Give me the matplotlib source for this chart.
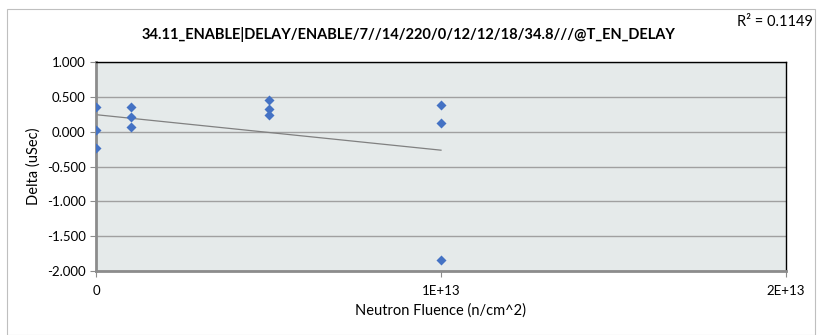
import numpy as np
import matplotlib.pyplot as plt
from matplotlib.patches import Rectangle

# fluence (n/cm^2) and delta (uSec)
fluence = [0, 0, 0, 1e12, 1e12, 1e12, 5e12, 5e12, 5e12, 1e13, 1e13, 1e13]
delta = [0.36, 0.02, -0.23, 0.36, 0.21, 0.07, 0.45, 0.33, 0.24, 0.38, 0.13, -1.84]
yticks = [1.0, 0.5, 0.0, -0.5, -1.0, -1.5, -2.0]
xticks = [0, 1e13, 2e13]
xticklabels = ["0", "1E+13", "2E+13"]
title = "34.11_ENABLE|DELAY/ENABLE/7//14/220/0/12/12/18/34.8///@T_EN_DELAY"
r2_text = "R² = 0.1149"

plt.rcParams['font.family'] = ['Lato', 'DejaVu Sans']

fig = plt.figure(figsize=(8.2, 3.35), dpi=100)
fig.patches.append(Rectangle((7/820, 0.0), 808/820, 1 - 9/335, transform=fig.transFigure,
                             fill=False, edgecolor='#bfbfbf', linewidth=0.8))
ax = fig.add_axes([96/820, 1 - 271/335, 690/820, 209/335])
ax.set_facecolor('#e5eaea')

x = np.array(fluence)
y = np.array(delta)
m, b = np.polyfit(x, y, 1)
xs = np.array([x.min(), x.max()])
ax.plot(xs, m * xs + b, color='#808080', linewidth=0.9, zorder=2)
ax.scatter(x, y, marker='D', s=26, color='#4472c4', zorder=3, linewidths=0)

ax.set_xlim(0, 2e13)
ax.set_ylim(-2.0, 1.0)
ax.set_yticks(yticks)
ax.set_yticklabels([f"{v:.3f}" for v in yticks])
ax.set_xticks(xticks)
ax.set_xticklabels(xticklabels)
ax.yaxis.grid(True, color='#a0a0a0', linewidth=1.0)
ax.set_axisbelow(True)

for s in ['top', 'right']:
    ax.spines[s].set_color('black')
    ax.spines[s].set_linewidth(1.0)
for s in ['left', 'bottom']:
    ax.spines[s].set_color('#8c8c8c')
    ax.spines[s].set_linewidth(2.0)
ax.tick_params(axis='both', colors='#8c8c8c', labelcolor='black', labelsize=9.5,
               length=4, width=0.8, direction='out')
ax.tick_params(axis='x', pad=6)

ax.set_xlabel("Neutron Fluence (n/cm^2)", fontsize=10.5, labelpad=5)
ax.set_ylabel("Delta (uSec)", fontsize=10.5, labelpad=4)
fig.text(409/820, 1 - 34/335, title, ha='center', va='center', fontsize=10.5, fontweight='bold')
fig.text(813/820, 1 - 22/335, r2_text, ha='right', va='center', fontsize=10.5)

fig.savefig("out.png", dpi=100)
